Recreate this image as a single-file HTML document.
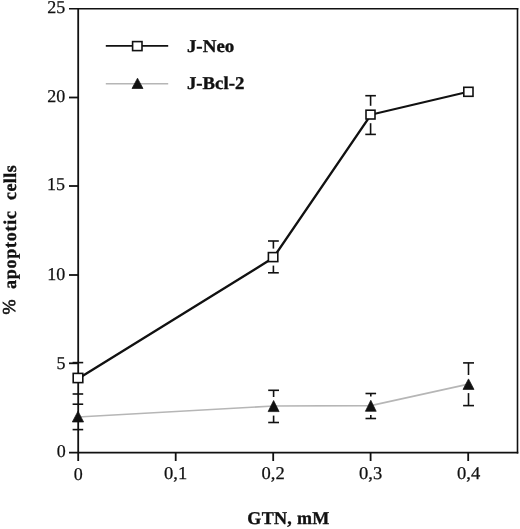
<!DOCTYPE html>
<html>
<head>
<meta charset="utf-8">
<title>Chart</title>
<style>
html,body{margin:0;padding:0;background:#fff;}
svg{display:block;will-change:transform;}
text{font-family:"Liberation Serif","Times New Roman",serif;fill:#111;text-rendering:geometricPrecision;stroke:#111;stroke-width:0.25;}
.b{font-weight:bold;stroke-width:0.35;}
</style>
</head>
<body>
<svg width="520" height="529" viewBox="0 0 520 529">
<rect width="520" height="529" fill="#fff"/>

<!-- frame -->
<g stroke="#111" fill="none" stroke-linecap="butt">
  <line x1="78.2" y1="8" x2="78.2" y2="461" stroke-width="1.8"/>
  <line x1="69" y1="8.7" x2="518.3" y2="8.7" stroke-width="1.5"/>
  <line x1="517.5" y1="8" x2="517.5" y2="453.5" stroke-width="1.6"/>
  <line x1="69" y1="452.7" x2="518.3" y2="452.7" stroke-width="1.7"/>
  <!-- y ticks -->
  <g stroke-width="1.8">
    <line x1="69" y1="97.5" x2="78" y2="97.5"/>
    <line x1="69" y1="186" x2="78" y2="186"/>
    <line x1="69" y1="275" x2="78" y2="275"/>
    <line x1="69" y1="363.3" x2="78" y2="363.3"/>
  </g>
  <!-- x ticks -->
  <g stroke-width="1.8">
    <line x1="175.7" y1="452" x2="175.7" y2="461"/>
    <line x1="273.2" y1="452" x2="273.2" y2="461"/>
    <line x1="370.6" y1="452" x2="370.6" y2="461"/>
    <line x1="468.2" y1="452" x2="468.2" y2="461"/>
  </g>
</g>

<!-- y tick labels -->
<g font-size="18" text-anchor="end">
  <text x="65.2" y="13.3">25</text>
  <text x="65.2" y="102.2">20</text>
  <text x="65.1" y="190.4">15</text>
  <text x="65.3" y="280.2">10</text>
  <text x="65.5" y="368.5">5</text>
  <text x="65.7" y="457.2">0</text>
</g>
<!-- x tick labels -->
<g font-size="18" text-anchor="middle">
  <text x="78.2" y="480.3">0</text>
  <text x="175.6" y="479.4" textLength="23.2" lengthAdjust="spacingAndGlyphs">0,1</text>
  <text x="273.2" y="479.4" textLength="23.2" lengthAdjust="spacingAndGlyphs">0,2</text>
  <text x="370.7" y="479.4" textLength="23.2" lengthAdjust="spacingAndGlyphs">0,3</text>
  <text x="468.7" y="479.4" textLength="23.2" lengthAdjust="spacingAndGlyphs">0,4</text>
</g>

<!-- axis titles -->
<text class="b" font-size="18" x="247.3" y="524.3" textLength="82" lengthAdjust="spacing">GTN, mM</text>
<g transform="translate(15.5,316.2) rotate(-90)">
  <text font-size="18.2" x="1.7" y="-0.2" style="stroke-width:0.6">%</text>
  <text class="b" font-size="18" x="27.3" y="0" textLength="78" lengthAdjust="spacing">apoptotic</text>
  <text class="b" font-size="18" x="116.2" y="0" textLength="34.8" lengthAdjust="spacing">cells</text>
</g>

<!-- grey series line (J-Bcl-2) -->
<polyline points="78,417 273.5,406 370.8,405.6 468.5,384.2" fill="none" stroke="#b6b6b6" stroke-width="1.7"/>

<!-- black series line (J-Neo) -->
<polyline points="78,378.8 273.3,257.8 370.7,115.2" fill="none" stroke="#111" stroke-width="2.35" stroke-linejoin="round"/>
<line x1="370.7" y1="114.8" x2="468.3" y2="91.8" stroke="#111" stroke-width="2"/>

<!-- error bars -->
<g stroke="#111" stroke-width="1.6" fill="none">
  <!-- J-Neo x=0 -->
  <line x1="72.6" y1="362.6" x2="83.2" y2="362.6"/>
  <line x1="72.6" y1="394" x2="83.2" y2="394"/>
  <!-- J-Bcl2 x=0 -->
  <line x1="72.6" y1="404.2" x2="83.2" y2="404.2"/>
  <line x1="72.6" y1="429.6" x2="83.2" y2="429.6"/>
  <!-- J-Neo 0.2 -->
  <line x1="268" y1="241" x2="278.8" y2="241"/>
  <line x1="273.4" y1="241" x2="273.4" y2="248.6"/>
  <line x1="268" y1="272.8" x2="278.8" y2="272.8"/>
  <line x1="273.4" y1="265.6" x2="273.4" y2="272.8"/>
  <!-- J-Neo 0.3 -->
  <line x1="365.3" y1="95.7" x2="375.9" y2="95.7"/>
  <line x1="370.6" y1="95.7" x2="370.6" y2="105.8"/>
  <line x1="365.3" y1="134.4" x2="375.9" y2="134.4"/>
  <line x1="370.6" y1="123.2" x2="370.6" y2="134.4"/>
  <!-- J-Bcl2 0.2 -->
  <line x1="268.2" y1="390.3" x2="279" y2="390.3"/>
  <line x1="273.6" y1="390.3" x2="273.6" y2="397"/>
  <line x1="268.2" y1="422.5" x2="279" y2="422.5"/>
  <line x1="273.6" y1="415.6" x2="273.6" y2="422.5"/>
  <!-- J-Bcl2 0.3 -->
  <line x1="365.5" y1="393.5" x2="376.1" y2="393.5"/>
  <line x1="370.8" y1="393.5" x2="370.8" y2="396.4"/>
  <line x1="365.5" y1="418.5" x2="376.1" y2="418.5"/>
  <line x1="370.8" y1="415" x2="370.8" y2="418.5"/>
  <!-- J-Bcl2 0.4 -->
  <line x1="463.1" y1="362.9" x2="474" y2="362.9"/>
  <line x1="468.5" y1="362.9" x2="468.5" y2="375"/>
  <line x1="463.1" y1="405.6" x2="474" y2="405.6"/>
  <line x1="468.5" y1="393.1" x2="468.5" y2="405.6"/>
</g>

<!-- square markers -->
<g stroke="#111" stroke-width="1.6" fill="#fff">
  <rect x="73.2" y="373.4" width="9.6" height="9.2"/>
  <rect x="268.4" y="252.6" width="9.4" height="9"/>
  <rect x="366" y="110.2" width="9" height="8.8"/>
  <rect x="463.8" y="87.3" width="9.2" height="9"/>
</g>

<!-- triangle markers -->
<g fill="#111" stroke="#111" stroke-width="0.7" stroke-linejoin="round">
  <polygon points="78,411.2 83.6,422 72.3,422"/>
  <polygon points="273.6,400.5 279.1,411.6 268.1,411.6"/>
  <polygon points="370.8,400.3 376.2,411.3 365.4,411.3"/>
  <polygon points="468.5,378.9 474,389.4 463,389.4"/>
</g>

<!-- legend -->
<line x1="105.8" y1="45.9" x2="168.2" y2="45.9" stroke="#111" stroke-width="1.7"/>
<rect x="132.6" y="41.6" width="9.4" height="9" fill="#fff" stroke="#111" stroke-width="1.6"/>
<line x1="105.8" y1="83.8" x2="168.2" y2="83.8" stroke="#b6b6b6" stroke-width="1.5"/>
<polygon points="137.5,78.2 143,88.5 132,88.5" fill="#111" stroke="#111" stroke-width="0.7" stroke-linejoin="round"/>
<text class="b" font-size="18" x="186.9" y="52" textLength="47.4" lengthAdjust="spacingAndGlyphs">J-Neo</text>
<text class="b" font-size="18" x="186.9" y="89.3" textLength="57.4" lengthAdjust="spacingAndGlyphs">J-Bcl-2</text>

</svg>
</body>
</html>
